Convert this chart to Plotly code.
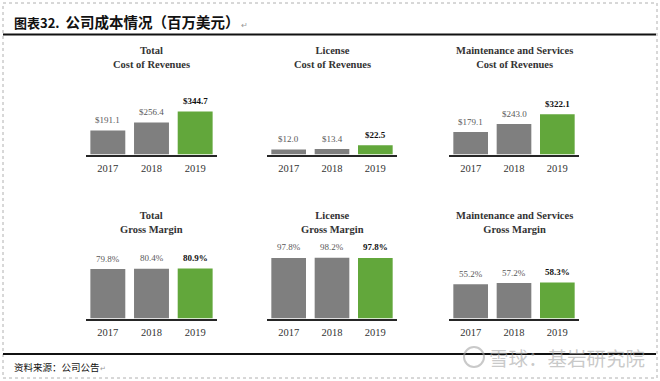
import plotly.graph_objects as go

W, H = 660, 381

years = ["2017", "2018", "2019"]
total_cost = [191.1, 256.4, 344.7]
license_cost = [12.0, 13.4, 22.5]
maint_cost = [179.1, 243.0, 322.1]
total_gm = [79.8, 80.4, 80.9]
license_gm = [97.8, 98.2, 97.8]
maint_gm = [55.2, 57.2, 58.3]

titles = [
    ("Total", "Cost of Revenues"),
    ("License", "Cost of Revenues"),
    ("Maintenance and Services", "Cost of Revenues"),
    ("Total", "Gross Margin"),
    ("License", "Gross Margin"),
    ("Maintenance and Services", "Gross Margin"),
]
series = [total_cost, license_cost, maint_cost, total_gm, license_gm, maint_gm]
is_money = [True, True, True, False, False, False]
y_max = [560, 171, 560, 113, 113, 113]

GRAY = "#7f7f7f"
GREEN = "#62a73b"
SERIF = "Liberation Serif, Times New Roman, serif"
CJK = "Noto Sans CJK SC"


def px(x):
    return x / W


def py(y):
    return 1 - y / H


x_doms = [(86, 217), (267, 397), (449, 579)]
y_doms = [(154.5, 84.5), (318.5, 248.5)]
title_y = [57.4, 222.5]

fig = go.Figure()
annotations = []
layout = {}

for i, vals in enumerate(series):
    row, col = divmod(i, 3)
    n = i + 1
    xa = "x" if n == 1 else f"x{n}"
    ya = "y" if n == 1 else f"y{n}"
    colors = [GRAY, GRAY, GREEN]
    fig.add_trace(go.Bar(
        x=years, y=vals, xaxis=xa, yaxis=ya,
        marker=dict(color=colors, line=dict(width=0)),
        width=0.8, showlegend=False, hoverinfo="skip",
    ))
    x0, x1 = x_doms[col]
    yb, yt = y_doms[row]
    layout["xaxis" if n == 1 else f"xaxis{n}"] = dict(
        domain=[px(x0), px(x1)], anchor=ya, type="category",
        range=[-0.5, 2.5], showgrid=False, zeroline=False,
        showline=True, linecolor="#262626", linewidth=2,
        ticks="", ticklabelstandoff=3,
        tickfont=dict(family=SERIF, size=10.5, color="#333333"),
        fixedrange=True,
    )
    layout["yaxis" if n == 1 else f"yaxis{n}"] = dict(
        domain=[py(yb), py(yt)], anchor=xa, range=[0, y_max[i]],
        visible=False, showgrid=False, zeroline=False, fixedrange=True,
    )
    for j, v in enumerate(vals):
        txt = f"${v:.1f}" if is_money[i] else f"{v:.1f}%"
        bold = j == 2
        annotations.append(dict(
            x=j, y=v, xref=xa, yref=ya, showarrow=False,
            text=f"<b>{txt}</b>" if bold else txt,
            yanchor="middle", yshift=10.5,
            font=dict(family=SERIF, size=9, color="#111111" if bold else "#595959"),
        ))
    t1, t2 = titles[i]
    annotations.append(dict(
        x=px((x0 + x1) / 2), y=py(title_y[row]), xref="paper", yref="paper",
        showarrow=False, xanchor="center", yanchor="middle",
        text=f"<b>{t1}</b><br><b>{t2}</b>",
        font=dict(family=SERIF, size=10.5, color="#333333"),
    ))

# header / footer
annotations.append(dict(
    x=px(12), y=py(22), xref="paper", yref="paper", showarrow=False,
    xanchor="left", yanchor="middle",
    text="<b>图表32.</b>  <b><span style='font-size:14.5px'>公司成本情况（百万美元）</span></b>"
         "<span style='font-size:8px;color:#999'> ↵</span>",
    font=dict(family=CJK, size=13, color="#111111"),
))
annotations.append(dict(
    x=px(12), y=py(367), xref="paper", yref="paper", showarrow=False,
    xanchor="left", yanchor="middle",
    text="资料来源：公司公告<span style='font-size:7px;color:#999'>↵</span>",
    font=dict(family=CJK, size=9.5, color="#111111"),
))
annotations.append(dict(
    x=px(487), y=py(357), xref="paper", yref="paper", showarrow=False,
    xanchor="left", yanchor="middle",
    text="雪球：基岩研究院",
    font=dict(family=CJK, size=19.5, color="rgba(165,165,165,0.6)"),
))

shapes = [
    dict(type="rect", xref="paper", yref="paper", x0=px(3), x1=px(657), y0=py(378), y1=py(3),
         line=dict(color="#b0b0b0", width=1, dash="dot")),
    dict(type="line", xref="paper", yref="paper", x0=px(3), x1=px(656), y0=py(34.5), y1=py(34.5),
         line=dict(color="#111111", width=2)),
    dict(type="line", xref="paper", yref="paper", x0=px(3), x1=px(656), y0=py(354), y1=py(354),
         line=dict(color="#111111", width=2)),
    dict(type="circle", xref="paper", yref="paper", x0=px(464), x1=px(484), y0=py(367), y1=py(347),
         line=dict(color="rgba(165,165,165,0.6)", width=2)),
]

fig.update_layout(
    width=W, height=H, margin=dict(l=0, r=0, t=0, b=0),
    paper_bgcolor="white", plot_bgcolor="rgba(0,0,0,0)",
    annotations=annotations, shapes=shapes, bargap=0.2,
    **layout,
)

fig.write_html(
    "out.html",
    config={"displayModeBar": False},
    post_script="document.body.style.margin='0';document.body.style.padding='0';",
)
